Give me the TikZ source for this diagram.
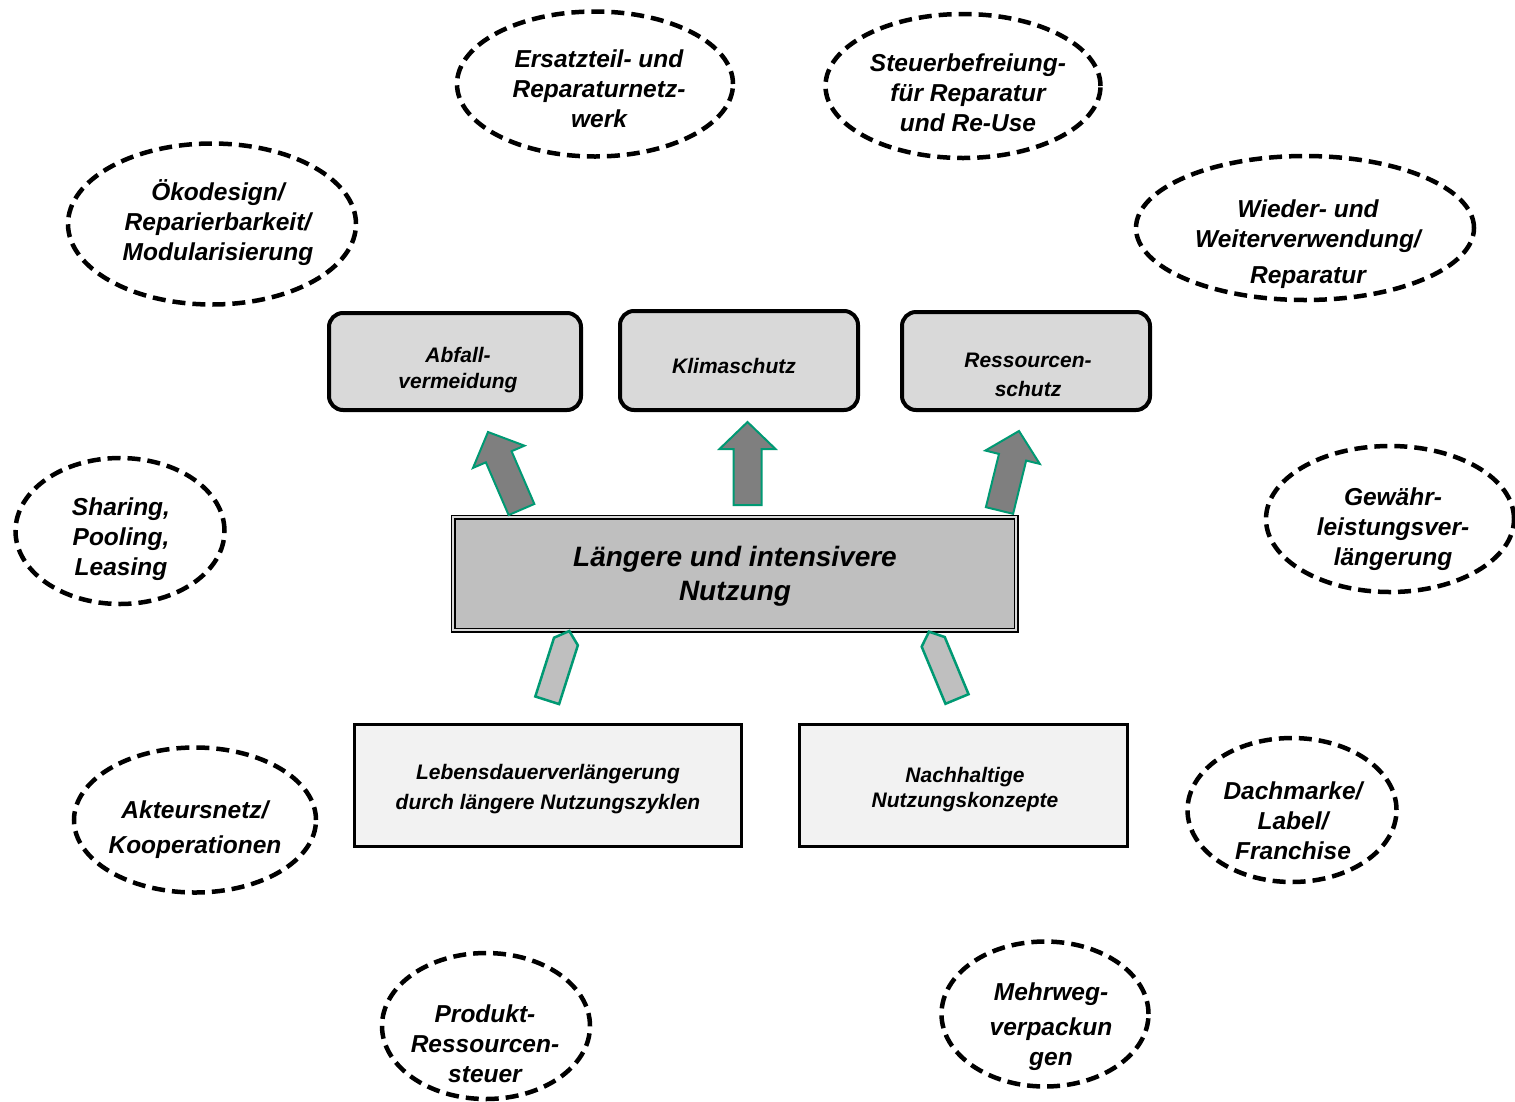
\documentclass[tikz,border=0pt]{standalone}
\usepackage{fontspec}
\setmainfont{Liberation Sans}
\usetikzlibrary{shapes.geometric,calc}
\definecolor{arrowgreen}{HTML}{009973}
\definecolor{darkarrow}{HTML}{7F7F7F}
\definecolor{lightarrow}{HTML}{BFBFBF}
\definecolor{topfill}{HTML}{D9D9D9}
\definecolor{midfill}{HTML}{BFBFBF}
\definecolor{botfill}{HTML}{F2F2F2}
\newcommand{\blockarr}[6]{%
  \coordinate (hb) at ($(#3)!#6!(#2)$);
  \draw[#1] ($(#2)!#4!90:(#3)$) -- ($(hb)!#4!90:(#3)$) -- ($(hb)!#5!90:(#3)$) -- (#3)
    -- ($(hb)!#5!-90:(#3)$) -- ($(hb)!#4!-90:(#3)$) -- ($(#2)!#4!-90:(#3)$) -- cycle;}
\begin{document}
\begin{tikzpicture}[x=1pt,y=-1pt,
  ell/.style={ellipse, draw=black, line width=4.5pt, dash pattern=on 13pt off 7pt, fill=white, inner sep=0pt},
  elltext/.style={font=\fontsize{24.5}{30}\selectfont\bfseries\itshape, align=center, inner sep=0pt},
  topbox/.style={draw=black, line width=4pt, rounded corners=14pt, fill=topfill, inner sep=0pt},
  boxtext/.style={font=\fontsize{21}{27}\selectfont\bfseries\itshape, align=center, inner sep=0pt},
  midbox/.style={draw=black, line width=1.6pt, double=topfill, double distance=1.8pt, fill=midfill, inner sep=0pt,
    font=\fontsize{28}{34}\selectfont\bfseries\itshape, align=center},
  botbox/.style={draw=black, line width=3pt, fill=botfill, inner sep=0pt, align=center},
  darkarr/.style={draw=arrowgreen, line width=2pt, fill=darkarrow, line join=miter},
  lightarr/.style={draw=arrowgreen, line width=2.5pt, fill=lightarrow, line join=miter}
]
\path[use as bounding box] (0,0) rectangle (1515,1101);

% ellipses
\node[ell, minimum width=276pt, minimum height=145pt] (e1) at (595,84) {};
\node[elltext] (t1) at (599,89) {Ersatzteil- und\\Reparaturnetz-\\werk};
\node[ell, minimum width=275pt, minimum height=144pt] (e2) at (963,86) {};
\node[elltext] (t2) at (968,93) {Steuerbefreiung-\\für Reparatur\\und Re-Use};
\node[ell, minimum width=288pt, minimum height=161pt] (e3) at (212,224) {};
\node[elltext] (t3) at (218,223) {Ökodesign/\\Reparierbarkeit/\\Modularisierung};
\node[ell, minimum width=338pt, minimum height=144pt] (e4) at (1305,228) {};
\node[elltext] (t4) at (1308,244) {Wieder- und\\Weiterverwendung/\\[6pt]Reparatur};
\node[ell, minimum width=209pt, minimum height=146pt] (e5) at (120,531) {};
\node[elltext] (t5) at (121,539) {Sharing,\\Pooling,\\Leasing};
\node[ell, minimum width=248pt, minimum height=146pt] (e6) at (1390,519) {};
\node[elltext] (t6) at (1393,529) {Gewähr-\\leistungsver-\\längerung};
\node[ell, minimum width=242pt, minimum height=145pt] (e7) at (195,820) {};
\node[elltext] (t7) at (195,830) {Akteursnetz/\\[5pt]Kooperationen};
\node[ell, minimum width=209pt, minimum height=144pt] (e8) at (1292,810) {};
\node[elltext] (t8) at (1293,821) {Dachmarke/\\Label/\\Franchise};
\node[ell, minimum width=208pt, minimum height=146pt] (e9) at (486,1026) {};
\node[elltext] (t9) at (485,1044) {Produkt-\\Ressourcen-\\steuer};
\node[ell, minimum width=207pt, minimum height=145pt] (e10) at (1045,1014) {};
\node[elltext] (t10) at (1051,1027) {Mehrweg-\\[5pt]verpackun\\gen};

% top boxes
\node[topbox, minimum width=252pt, minimum height=97pt] (g1) at (455,361.5) {};
\node[boxtext, font=\fontsize{21}{26}\selectfont\bfseries\itshape] (g1t) at (458,370) {Abfall-\\vermeidung};
\node[topbox, minimum width=238pt, minimum height=99pt] (g2) at (739,360.5) {};
\node[boxtext] (g2t) at (734,366) {Klimaschutz};
\node[topbox, minimum width=248pt, minimum height=98pt] (g3) at (1026,361) {};
\node[boxtext, font=\fontsize{21}{29}\selectfont\bfseries\itshape] (g3t) at (1028,375) {Ressourcen-\\schutz};

% central box
\node[midbox, minimum width=563pt, minimum height=113pt] (m) at (734.5,573.5) {};
\node[font=\fontsize{28}{34}\selectfont\bfseries\itshape, align=center, inner sep=0pt] (mt) at (735,576) {Längere und intensivere\\Nutzung};

% bottom boxes
\node[botbox, minimum width=387pt, minimum height=122pt] (b1) at (547.5,785) {};
\node[boxtext, font=\fontsize{21}{30}\selectfont\bfseries\itshape] (b1t) at (548,789) {Lebensdauerverlängerung\\durch längere Nutzungszyklen};
\node[botbox, minimum width=328pt, minimum height=122pt] (b2) at (963,785) {};
\node[boxtext, font=\fontsize{21}{25}\selectfont\bfseries\itshape] (b2t) at (965,790) {Nachhaltige\\Nutzungskonzepte};

% block arrows
\coordinate (a1s) at (521.5,509.5); \coordinate (a1t) at (488,432);
\coordinate (a2s) at (747.5,505);   \coordinate (a2t) at (747.5,422);
\coordinate (a3s) at (999.5,510.5); \coordinate (a3t) at (1019,431);
\blockarr{darkarr}{a1s}{a1t}{14pt}{28pt}{27pt}
\blockarr{darkarr}{a2s}{a2t}{14pt}{28pt}{27pt}
\blockarr{darkarr}{a3s}{a3t}{14pt}{28pt}{27pt}

\coordinate (a4s) at (547.2,700.3); \coordinate (a4t) at (569.3,631);
\coordinate (a5s) at (957,699);     \coordinate (a5t) at (929,631.7);
\blockarr{lightarr}{a4s}{a4t}{12.5pt}{12.5pt}{11pt}
\blockarr{lightarr}{a5s}{a5t}{12.5pt}{12.5pt}{11pt}
\end{tikzpicture}
\end{document}
